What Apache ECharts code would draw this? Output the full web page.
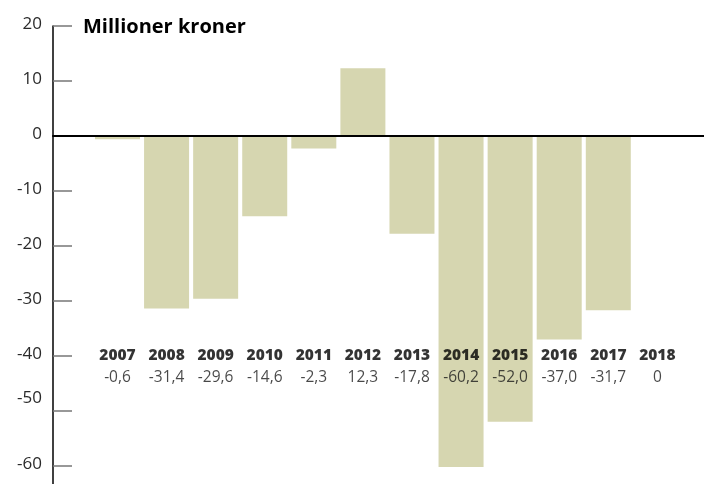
<!DOCTYPE html>
<html>
<head>
<meta charset="utf-8">
<script src="https://cdn.jsdelivr.net/npm/echarts@6/dist/echarts.min.js"></script>
<style>
html,body{margin:0;padding:0;background:#fff;}
#c{width:704px;height:484px;}
</style>
</head>
<body>
<div id="c"></div>
<script>
var years = [2007, 2008, 2009, 2010, 2011, 2012, 2013, 2014, 2015, 2016, 2017, 2018];
var values = [-0.6, -31.4, -29.6, -14.6, -2.3, 12.3, -17.8, -60.2, -52.0, -37.0, -31.7, 0];
var yTicks = [20, 10, 0, -10, -20, -30, -40, -50, -60];
var yearLabelLevel = -40;
var valueLabelLevel = -44;
var title = 'Millioner kroner';

function fmt(v) {
  if (v === 0) return '0';
  return v.toFixed(1).replace('.', ',');
}

var chart = echarts.init(document.getElementById('c'), null, {renderer: 'canvas'});
chart.setOption({
  animation: false,
  backgroundColor: '#fff',
  grid: {left: 53, right: 0, top: 26, bottom: 0},
  xAxis: {
    type: 'value',
    z: 4,
    min: 2005.686,
    max: 2018.95,
    axisLine: {show: true, onZero: true, lineStyle: {color: '#000', width: 2}},
    axisTick: {show: false},
    axisLabel: {show: false},
    splitLine: {show: false}
  },
  yAxis: {
    type: 'value',
    z: 3,
    min: -63.3,
    max: 20,
    axisLine: {show: true, lineStyle: {color: '#000', width: 1.5}},
    axisTick: {show: true, inside: true, length: 19, customValues: yTicks, lineStyle: {color: '#777', width: 1.5}},
    splitLine: {show: false},
    axisLabel: {
      customValues: yTicks,
      margin: 11,
      color: '#2a2a2a',
      fontFamily: 'Open Sans',
      fontSize: 17,
      padding: [0, 0, 3, 0],
      formatter: function (v) {
        if (v === -50) return '{up|' + v + '}';
        return '{n|' + v + '}';
      },
      rich: {
        n: {fontFamily: 'Open Sans', fontSize: 17, color: '#2a2a2a'},
        up: {fontFamily: 'Open Sans', fontSize: 17, color: '#2a2a2a', padding: [0, 0, 22, 0]}
      }
    }
  },
  graphic: [{
    type: 'text',
    left: 83,
    top: 17,
    style: {text: title, fontFamily: 'Open Sans', fontWeight: 'bold', fontSize: 20, fill: '#000'}
  }],
  series: [
    {
      type: 'bar',
      data: years.map(function (y, i) { return [y, values[i]]; }),
      barWidth: 45,
      itemStyle: {color: '#d6d6b0'},
      z: 1
    },
    {
      type: 'scatter',
      symbolSize: 0,
      silent: true,
      data: years.map(function (y) { return [y, yearLabelLevel]; }),
      label: {
        show: true, position: 'inside',
        formatter: function (p) { return String(years[p.dataIndex]); },
        fontFamily: 'Open Sans', fontWeight: 800, fontSize: 15.5, color: '#000'
      },
      z: 5
    },
    {
      type: 'scatter',
      symbolSize: 0,
      silent: true,
      data: years.map(function (y) { return [y, valueLabelLevel]; }),
      label: {
        show: true, position: 'inside',
        formatter: function (p) { return fmt(values[p.dataIndex]); },
        fontFamily: 'Open Sans', fontSize: 15.5, color: '#1a1a1a'
      },
      z: 5
    }
  ]
});
</script>
</body>
</html>
